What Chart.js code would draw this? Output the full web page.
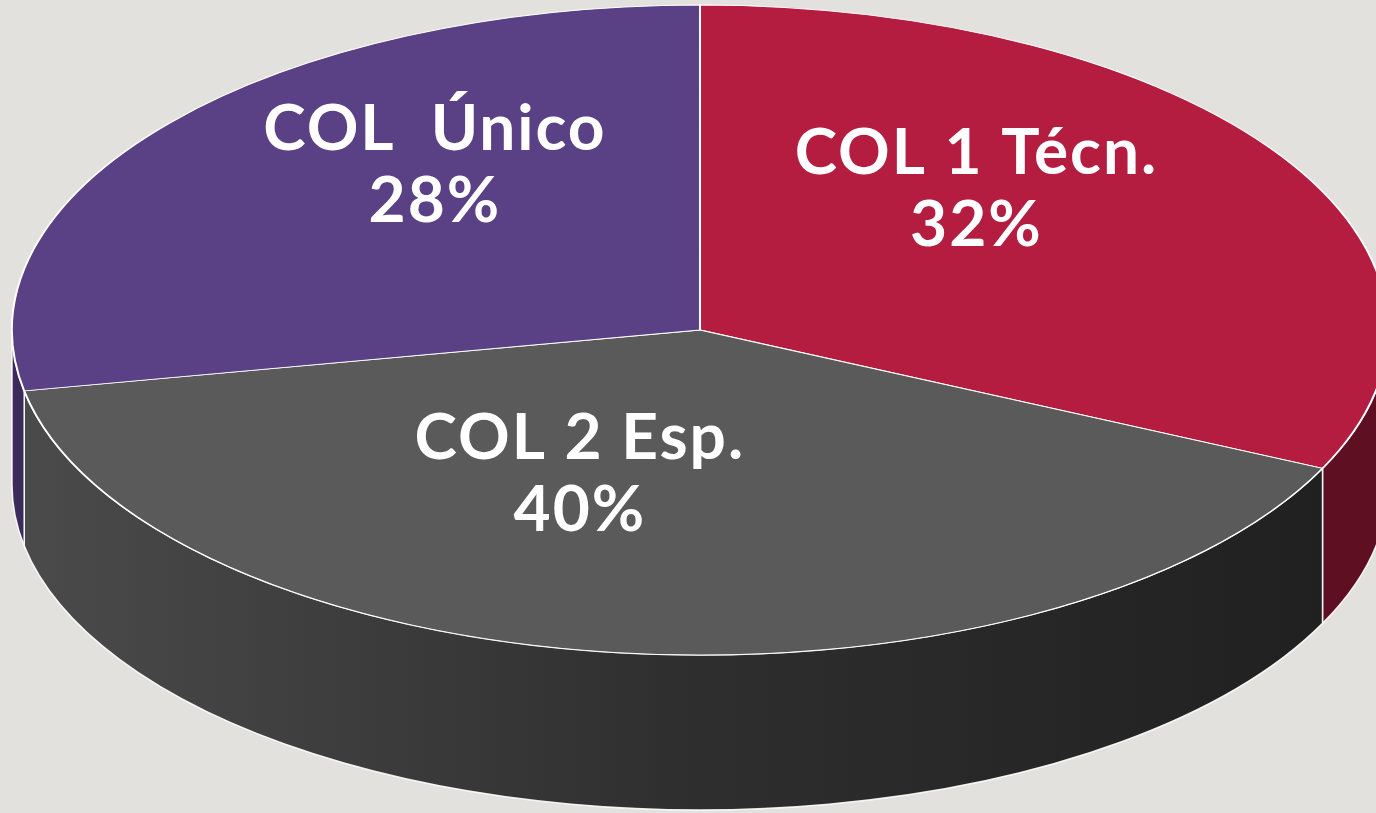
<!DOCTYPE html>
<html>
<head>
<meta charset="utf-8">
<script src="https://cdn.jsdelivr.net/npm/chart.js@4"></script>
<style>
  html, body { margin: 0; padding: 0; background: #e3e1de; overflow: hidden; }
  #pie { display: block; }
</style>
</head>
<body>
<canvas id="pie" width="1376" height="813"></canvas>
<script>
// data
const labels = ['COL 1 Técn.', 'COL 2 Esp.', 'COL  Único'];
const values = [32, 40, 28];

// colours (top face / side wall)
const topColors = ['#b51d40', '#5a5a5a', '#5a4185'];
const sideColors = ['#5e0f22', null, '#3b2a5a'];

// ellipse of the top face + wall depth
const EX = 700, EY = 330, RX = 688, RY = 325, DEPTH = 155;
// small nudges so the labels sit where the original puts them
const labelNudge = [[-19, 5], [-82, 42], [-5, -2]];

function drawSide(ctx, s, e, i) {
    ctx.beginPath();
    ctx.moveTo(EX + RX * Math.cos(s), EY + RY * Math.sin(s));
    ctx.ellipse(EX, EY, RX, RY, 0, s, e);
    ctx.lineTo(EX + RX * Math.cos(e), EY + RY * Math.sin(e) + DEPTH);
    ctx.ellipse(EX, EY + DEPTH, RX, RY, 0, e, s, true);
    ctx.closePath();
    if (sideColors[i]) {
        ctx.fillStyle = sideColors[i];
    } else {
        const g = ctx.createLinearGradient(EX - RX, 0, EX + RX, 0);
        g.addColorStop(0, '#4b4b4b');
        g.addColorStop(0.5, '#2e2e2e');
        g.addColorStop(1, '#1f1f1f');
        ctx.fillStyle = g;
    }
    ctx.fill();
    ctx.strokeStyle = 'rgba(255,255,255,0.9)';
    ctx.lineWidth = 1.5;
    ctx.stroke();
}

const pie3d = {
    id: 'pie3d',
    beforeDatasetsDraw(chart) {
        const ctx = chart.ctx;
        const meta = chart.getDatasetMeta(0);
        const a0 = meta.data[0];
        // side walls, only the front half (angles 0..PI) is visible
        meta.data.forEach(function(arc, i) {
            const s = Math.max(arc.startAngle, 0);
            const e = Math.min(arc.endAngle, Math.PI);
            if (e > s) drawSide(ctx, s, e, i);
        });
        // squash the round pie into the tilted ellipse
        ctx.save();
        ctx.translate(EX, EY);
        ctx.scale(RX / a0.outerRadius, RY / a0.outerRadius);
        ctx.translate(-a0.x, -a0.y);
    },
    afterDatasetsDraw(chart) {
        const ctx = chart.ctx;
        ctx.restore();
        const meta = chart.getDatasetMeta(0);
        const total = values.reduce((a, b) => a + b, 0);
        ctx.save();
        ctx.fillStyle = '#ffffff';
        ctx.font = 'bold 64px Lato';
        ctx.letterSpacing = '2px';
        ctx.textAlign = 'center';
        ctx.textBaseline = 'alphabetic';
        meta.data.forEach(function(arc, i) {
            const mid = (arc.startAngle + arc.endAngle) / 2;
            const x = EX + 5 + 0.5 * RX * Math.cos(mid) + labelNudge[i][0];
            const y = EY - 60 + 0.5 * RY * Math.sin(mid) + labelNudge[i][1];
            const pct = Math.round(values[i] / total * 100) + '%';
            ctx.fillText(labels[i], x, y - 14);
            ctx.fillText(pct, x, y + 58);
        });
        ctx.restore();
    }
};

const ctxPie = document.getElementById('pie').getContext('2d');
const myPie = new Chart(ctxPie, {
    type: 'pie',
    data: {
        labels: labels,
        datasets: [{
            data: values,
            backgroundColor: topColors,
            borderColor: '#ffffff',
            borderWidth: 1.2,
            clip: false
        }]
    },
    options: {
        responsive: false,
        animation: false,
        layout: { padding: 0 },
        plugins: {
            legend: { display: false },
            tooltip: { enabled: false }
        }
    },
    plugins: [pie3d]
});
</script>
</body>
</html>
